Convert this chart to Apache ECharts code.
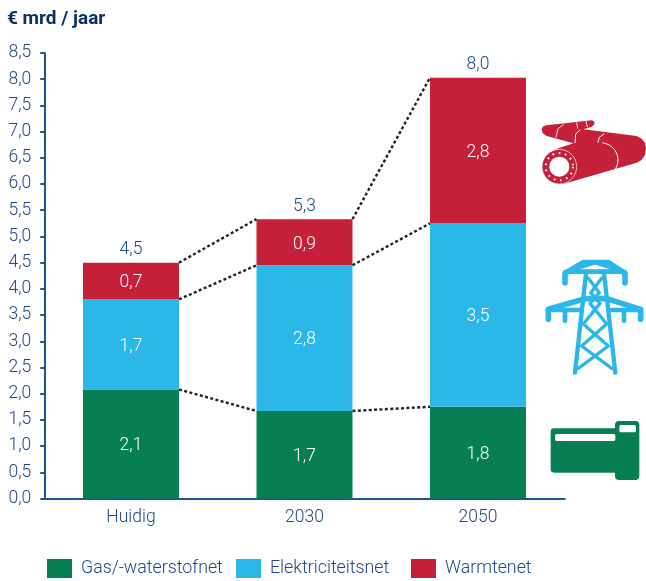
<!DOCTYPE html>
<html><head><meta charset="utf-8"><style>html,body{margin:0;padding:0;background:#fff}#c{width:646px;height:581px}</style>
<script src="https://cdn.jsdelivr.net/npm/echarts@6/dist/echarts.min.js"></script></head>
<body><div id="c"></div>
<script>
var categories = ['Huidig', '2030', '2050'];
var gasNet = [2.08, 1.67, 1.75];
var elecNet = [1.72, 2.78, 3.50];
var heatNet = [0.70, 0.88, 2.78];
var totals = [4.5, 5.3, 8.0];
var names = ['Gas/-waterstofnet', 'Elektriciteitsnet', 'Warmtenet'];
var GREEN = '#077f53', BLUE = '#2bb7e8', RED = '#c42039', AXIS = '#1f5596', TXT = '#1f4685', TITLE = '#0b2f6b';
var FONT = 'Roboto';
function comma(v){ return v.toFixed(1).replace('.', ','); }
function barSeries(name, data, color){
  return {name:name, type:'bar', stack:'a', data:data, barWidth:96, z:2,
    itemStyle:{color:color},
    label:{show:true, position:'inside', offset:[0,2], color:'#fff', fontFamily:FONT, fontWeight:300, fontSize:17.5,
      formatter:function(p){return comma(p.value);}}};
}
function legendFor(name, left){
  return {left:left, top:559, padding:0, itemWidth:25, itemHeight:19, icon:'rect', data:[name],
    selectedMode:false, textStyle:{color:TXT, fontFamily:FONT, fontWeight:300, fontSize:17.8, padding:[3,0,0,4]}};
}
var levels = [gasNet, gasNet.map(function(v,i){return v+elecNet[i];}), gasNet.map(function(v,i){return v+elecNet[i]+heatNet[i];})];
var connectors = [];
levels.forEach(function(l){ for(var i=0;i<l.length-1;i++){ connectors.push([i,l[i],l[i+1]]); } });
function stroke(color,w){ return {stroke:color, fill:null, lineWidth:w, lineCap:'round', lineJoin:'round'}; }
function icon(x,y,children){ return {type:'group', x:x, y:y, scaleX:1/3, scaleY:1/3, silent:true, children:children}; }
var chart = echarts.init(document.getElementById('c'), null, {renderer:'canvas'});
chart.setOption({
  animation:false,
  title:{text:'€ mrd / jaar', left:7, top:10, padding:0, textStyle:{color:TITLE, fontFamily:FONT, fontWeight:700, fontSize:19}},
  grid:{left:44.25, width:520.5, top:53, height:445.5, containLabel:false},
  legend:[legendFor(names[0],47), legendFor(names[1],236), legendFor(names[2],411)],
  xAxis:{type:'category', data:categories, axisTick:{show:false}, axisLine:{lineStyle:{color:AXIS, width:2}},
    axisLabel:{color:TXT, fontFamily:FONT, fontWeight:300, fontSize:17.5, margin:10}},
  yAxis:{type:'value', min:0, max:8.5, interval:0.5,
    axisLine:{show:true, lineStyle:{color:AXIS, width:2}},
    axisTick:{show:true, length:4, lineStyle:{color:AXIS, width:2}}, splitLine:{show:false},
    axisLabel:{color:TXT, fontFamily:FONT, fontWeight:300, fontSize:17.5, margin:13, padding:[4,0,0,0], formatter:function(v){return comma(v);}}},
  series:[
    barSeries(names[0], gasNet, GREEN),
    barSeries(names[1], elecNet, BLUE),
    barSeries(names[2], heatNet, RED),
    {type:'custom', silent:true, z:3, data:connectors, encode:{x:0,y:[1,2]},
      renderItem:function(params, api){
        var a = api.coord([api.value(0), api.value(1)]);
        var b = api.coord([api.value(0)+1, api.value(2)]);
        return {type:'line', shape:{x1:a[0]+48,y1:a[1],x2:b[0]-48,y2:b[1]},
          style:{stroke:'#222', lineWidth:2.4, lineDash:[3,2.4], fill:null}};
      }},
    {type:'scatter', symbolSize:0, silent:true, itemStyle:{opacity:1}, data:totals.map(function(t,i){return [i, levels[2][i], t];}),
      encode:{x:0,y:1},
      label:{show:true, position:'top', distance:4, opacity:1, color:TXT, fontFamily:FONT, fontWeight:300, fontSize:17.5,
        formatter:function(p){return comma(p.value[2]);}}}
  ],
  graphic:[
    icon(530,110,[
      {type:'polygon', shape:{points:[[35,58],[38,50],[48,46],[105,40],[185,31],[192,34],[194,42],[185,50],[160,58],[320,78],[335,86],[345,98],[348,115],[345,135],[335,150],[320,158],[100,222],[70,215],[50,190],[60,135],[85,115],[130,100],[50,78],[38,70]]}, style:{fill:RED}},
      {type:'circle', shape:{cx:88,cy:170,r:52}, style:{fill:RED, stroke:'#fff', lineWidth:2}},
      {type:'circle', shape:{cx:88,cy:170,r:30}, style:{fill:'#fff'}},
      {type:'circle', shape:{cx:88,cy:170,r:41}, style:{fill:null, stroke:'#fff', lineWidth:6, lineDash:[5,14]}},
      {type:'arc', shape:{cx:212,cy:150,r:52,startAngle:-1.45,endAngle:1.0}, style:stroke('#fff',3)},
      {type:'polyline', shape:{points:[[222,72],[208,82],[204,96]]}, style:stroke('#fff',3)},
      {type:'polyline', shape:{points:[[150,60],[137,72],[135,98]]}, style:stroke('#fff',3)},
      {type:'polyline', shape:{points:[[100,44],[84,56],[78,82]]}, style:stroke('#fff',2.5)},
      {type:'polyline', shape:{points:[[140,38],[143,55]]}, style:stroke('#fff',2.5)},
      {type:'polyline', shape:{points:[[168,34],[172,50]]}, style:stroke('#fff',2.5)}
    ]),
    icon(530,250,[
      {type:'polyline', shape:{points:[[105,98],[105,70],[160,38],[235,38],[285,70],[285,98]]}, style:stroke(BLUE,17)},
      {type:'polyline', shape:{points:[[55,208],[55,178],[165,146],[230,146],[332,178],[332,208]]}, style:stroke(BLUE,17)},
      {type:'polygon', shape:{points:[[105,62],[160,35],[235,35],[285,62],[285,72],[105,72]]}, style:{fill:BLUE}},
      {type:'polygon', shape:{points:[[150,58],[195,44],[240,58]]}, style:{fill:'#fff'}},
      {type:'line', shape:{x1:105,y1:65,x2:285,y2:65}, style:stroke(BLUE,12)},
      {type:'line', shape:{x1:55,y1:180,x2:150,y2:180}, style:stroke(BLUE,14)},
      {type:'line', shape:{x1:245,y1:180,x2:332,y2:180}, style:stroke(BLUE,14)},
      {type:'line', shape:{x1:105,y1:180,x2:105,y2:212}, style:stroke(BLUE,14)},
      {type:'line', shape:{x1:282,y1:180,x2:282,y2:212}, style:stroke(BLUE,14)},
      {type:'line', shape:{x1:168,y1:70,x2:135,y2:368}, style:stroke(BLUE,13)},
      {type:'line', shape:{x1:222,y1:70,x2:256,y2:368}, style:stroke(BLUE,13)},
      {type:'polyline', shape:{points:[[175,85],[208,128],[180,160],[230,222],[155,288],[245,355]]}, style:stroke(BLUE,10)},
      {type:'polyline', shape:{points:[[215,85],[182,128],[210,160],[160,222],[235,288],[145,355]]}, style:stroke(BLUE,10)}
    ]),
    icon(530,410,[
      {type:'rect', shape:{x:62,y:55,width:205,height:133,r:10}, style:{fill:GREEN}},
      {type:'rect', shape:{x:255,y:33,width:73,height:177,r:12}, style:{fill:GREEN}},
      {type:'rect', shape:{x:75,y:72,width:181,height:21,r:5}, style:{fill:'#fff'}},
      {type:'rect', shape:{x:268,y:45,width:50,height:22,r:5}, style:{fill:'#fff'}}
    ])
  ]
});
</script></body></html>
